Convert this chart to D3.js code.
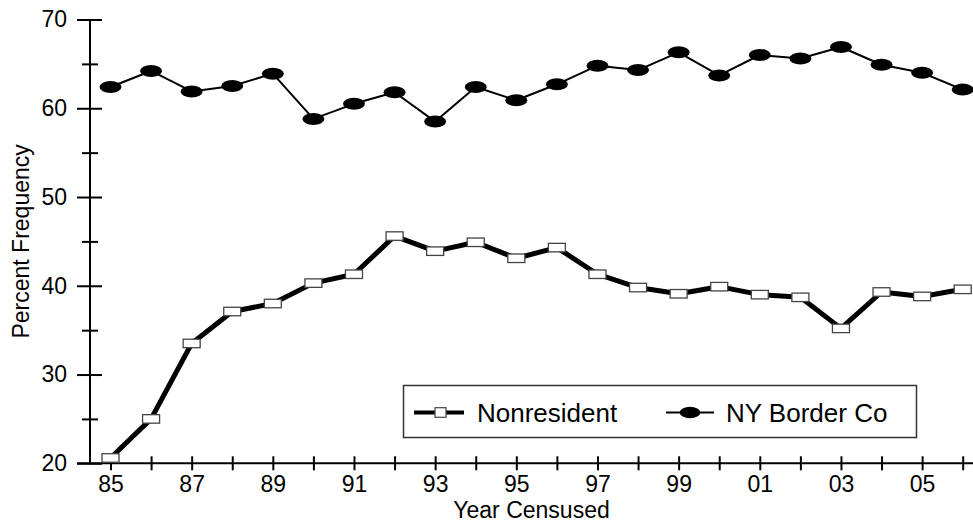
<!DOCTYPE html>
<html>
<head>
<meta charset="utf-8">
<script src="https://cdn.jsdelivr.net/npm/d3@7"></script>
<style>
  html, body { margin: 0; padding: 0; background: #fff; }
  svg { display: block; font-family: Arial, "Liberation Sans", sans-serif; }
</style>
</head>
<body>
<svg id="chart" width="973" height="522"></svg>
<script>
// Census years and the two series (percent frequency)
const years = [1985, 1986, 1987, 1988, 1989, 1990, 1991, 1992, 1993, 1994, 1995,
               1996, 1997, 1998, 1999, 2000, 2001, 2002, 2003, 2004, 2005, 2006];
const nonresident = [20.6, 25.0, 33.5, 37.1, 38.0, 40.3, 41.3, 45.6, 43.9, 44.9, 43.1,
                     44.3, 41.3, 39.8, 39.1, 39.9, 39.0, 38.7, 35.2, 39.3, 38.8, 39.6];
const nyBorderCo = [62.4, 64.2, 61.9, 62.5, 63.9, 58.8, 60.5, 61.8, 58.5, 62.4, 60.9,
                    62.7, 64.8, 64.3, 66.3, 63.7, 66.0, 65.6, 66.9, 64.9, 64.0, 62.1];
const seriesNames = ["Nonresident", "NY Border Co"];

// Axis ticks
const xLabelYears = [1985, 1987, 1989, 1991, 1993, 1995, 1997, 1999, 2001, 2003, 2005];
const yMajorTicks = [20, 30, 40, 50, 60, 70];
const yMinorTicks = [25, 35, 45, 55, 65];
const xTitle = "Year Censused";
const yTitle = "Percent Frequency";

const svg = d3.select("#chart");

const x = d3.scaleLinear().domain([1985, 2006]).range([110.5, 962.7]);
const y = d3.scaleLinear().domain([20, 70]).range([463.3, 19.5]);
const axisX0 = 90;     // position of the vertical axis
const axisY0 = y(20);  // position of the horizontal axis

// ---- Y axis ----
const yAxisG = svg.append("g").attr("transform", `translate(${axisX0},0)`);
yAxisG.call(d3.axisLeft(y).tickValues(yMajorTicks).tickFormat(d3.format("d")).tickSizeOuter(0));
yAxisG.select(".domain").remove();
yAxisG.selectAll(".tick line").attr("x1", -13).attr("x2", 12)
  .attr("stroke", "#000").attr("stroke-width", 2);
yAxisG.selectAll(".tick text").attr("x", -23).attr("font-size", 23)
  .attr("font-family", "Arial, 'Liberation Sans', sans-serif").attr("fill", "#000");

const yMinorG = svg.append("g").attr("transform", `translate(${axisX0},0)`);
yMinorG.call(d3.axisLeft(y).tickValues(yMinorTicks).tickFormat("").tickSizeOuter(0));
yMinorG.select(".domain").remove();
yMinorG.selectAll(".tick line").attr("x1", -8).attr("x2", 8)
  .attr("stroke", "#000").attr("stroke-width", 2);

svg.append("line")
  .attr("x1", axisX0).attr("x2", axisX0)
  .attr("y1", y(70)).attr("y2", axisY0 + 1)
  .attr("stroke", "#000").attr("stroke-width", 2);

// ---- X axis ----
const xAxisG = svg.append("g").attr("transform", `translate(0,${axisY0})`);
xAxisG.call(d3.axisBottom(x).tickValues(years).tickFormat(d => xLabelYears.includes(d) ? String(d).slice(2) : "").tickSizeOuter(0));
xAxisG.select(".domain").remove();
xAxisG.selectAll(".tick line").attr("y1", -7).attr("y2", 7)
  .attr("stroke", "#000").attr("stroke-width", 2);
xAxisG.selectAll(".tick text").attr("y", 12).attr("font-size", 23)
  .attr("font-family", "Arial, 'Liberation Sans', sans-serif").attr("fill", "#000");

svg.append("line")
  .attr("x1", 77).attr("x2", 973)
  .attr("y1", axisY0).attr("y2", axisY0)
  .attr("stroke", "#000").attr("stroke-width", 2);

// ---- Axis titles ----
svg.append("text")
  .attr("x", (axisX0 + 973) / 2).attr("y", 518)
  .attr("text-anchor", "middle").attr("font-size", 23).attr("fill", "#000")
  .text(xTitle);

svg.append("text")
  .attr("transform", `translate(28.5,${(y(20) + y(70)) / 2}) rotate(-90)`)
  .attr("text-anchor", "middle").attr("font-size", 23).attr("fill", "#000")
  .text(yTitle);

// ---- Series ----
const line = d3.line().x((d, i) => x(years[i])).y(d => y(d));

svg.append("path").datum(nyBorderCo)
  .attr("d", line).attr("fill", "none")
  .attr("stroke", "#000").attr("stroke-width", 2).attr("stroke-linejoin", "round");

svg.append("path").datum(nonresident)
  .attr("d", line).attr("fill", "none")
  .attr("stroke", "#000").attr("stroke-width", 5).attr("stroke-linejoin", "round");

svg.append("g").selectAll("ellipse").data(nyBorderCo).join("ellipse")
  .attr("cx", (d, i) => x(years[i])).attr("cy", d => y(d))
  .attr("rx", 11).attr("ry", 6).attr("fill", "#000");

const rw = 17, rh = 8.5;
svg.append("g").selectAll("rect").data(nonresident).join("rect")
  .attr("x", (d, i) => x(years[i]) - rw / 2).attr("y", d => y(d) - rh / 2)
  .attr("width", rw).attr("height", rh)
  .attr("fill", "#fff").attr("stroke", "#444").attr("stroke-width", 1.3);

// ---- Legend ----
const legend = svg.append("g");
legend.append("rect")
  .attr("x", 403.5).attr("y", 385.5).attr("width", 513).attr("height", 52)
  .attr("fill", "#fff").attr("stroke", "#333").attr("stroke-width", 1.5);

const legY = 412.5;
legend.append("line").attr("x1", 414).attr("x2", 464).attr("y1", legY).attr("y2", legY)
  .attr("stroke", "#000").attr("stroke-width", 4);
legend.append("rect").attr("x", 435).attr("y", legY - 4.8).attr("width", 11).attr("height", 9.6)
  .attr("fill", "#fff").attr("stroke", "#444").attr("stroke-width", 1.2);
legend.append("text").attr("x", 477).attr("y", legY + 9)
  .attr("font-size", 26).attr("fill", "#000").text(seriesNames[0]);

legend.append("line").attr("x1", 666).attr("x2", 714).attr("y1", legY).attr("y2", legY)
  .attr("stroke", "#000").attr("stroke-width", 2);
legend.append("ellipse").attr("cx", 690).attr("cy", legY).attr("rx", 10.3).attr("ry", 5.8)
  .attr("fill", "#000");
legend.append("text").attr("x", 726).attr("y", legY + 9)
  .attr("font-size", 26).attr("fill", "#000").text(seriesNames[1]);
</script>
</body>
</html>
